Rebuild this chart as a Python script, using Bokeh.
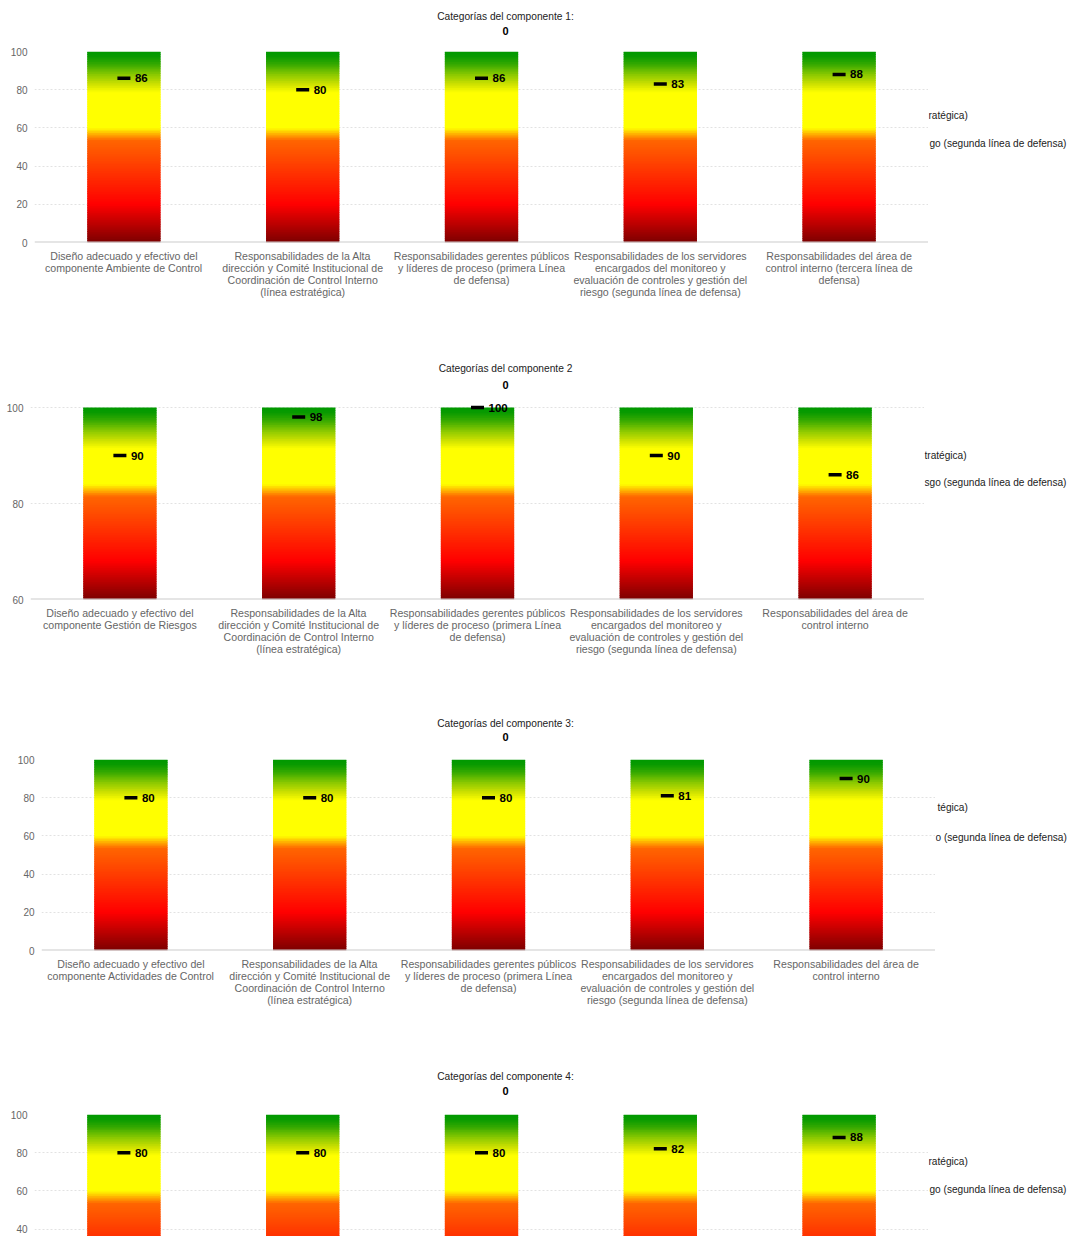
from bokeh.plotting import figure
from bokeh.layouts import column, row
from bokeh.models import ColumnDataSource, Range1d, FactorRange, FixedTicker, Label, LabelSet, Span
from bokeh.core.properties import value
from bokeh.embed import file_html
from bokeh.resources import INLINE

FONT = "Liberation Sans"

# ---------------- data ----------------
CAT_ALTA = ("Responsabilidades de la Alta dirección y Comité Institucional de "
            "Coordinación de Control Interno (línea estratégica)")
CAT_PRIMERA = "Responsabilidades gerentes públicos y líderes de proceso (primera Línea de defensa)"
CAT_SEGUNDA = ("Responsabilidades de los servidores encargados del monitoreo y evaluación "
               "de controles y gestión del riesgo (segunda línea de defensa)")

categories_1 = ["Diseño adecuado y efectivo del componente Ambiente de Control", CAT_ALTA, CAT_PRIMERA,
                CAT_SEGUNDA, "Responsabilidades del área de control interno (tercera línea de defensa)"]
categories_2 = ["Diseño adecuado y efectivo del componente Gestión de Riesgos", CAT_ALTA, CAT_PRIMERA,
                CAT_SEGUNDA, "Responsabilidades del área de control interno"]
categories_3 = ["Diseño adecuado y efectivo del componente Actividades de Control", CAT_ALTA, CAT_PRIMERA,
                CAT_SEGUNDA, "Responsabilidades del área de control interno"]
categories_4 = ["Diseño adecuado y efectivo del componente Información y Comunicación", CAT_ALTA, CAT_PRIMERA,
                CAT_SEGUNDA, "Responsabilidades del área de control interno"]

TL_ALTA = "Responsabilidades de la Alta\ndirección y Comité Institucional de\nCoordinación de Control Interno\n(línea estratégica)"
TL_PRIMERA = "Responsabilidades gerentes públicos\ny líderes de proceso (primera Línea\nde defensa)"
TL_SEGUNDA = "Responsabilidades de los servidores\nencargados del monitoreo y\nevaluación de controles y gestión del\nriesgo (segunda línea de defensa)"

tick_labels_1 = ["Diseño adecuado y efectivo del\ncomponente Ambiente de Control", TL_ALTA, TL_PRIMERA, TL_SEGUNDA,
                 "Responsabilidades del área de\ncontrol interno (tercera línea de\ndefensa)"]
tick_labels_2 = ["Diseño adecuado y efectivo del\ncomponente Gestión de Riesgos", TL_ALTA, TL_PRIMERA, TL_SEGUNDA,
                 "Responsabilidades del área de\ncontrol interno"]
tick_labels_3 = ["Diseño adecuado y efectivo del\ncomponente Actividades de Control", TL_ALTA, TL_PRIMERA, TL_SEGUNDA,
                 "Responsabilidades del área de\ncontrol interno"]

bars_1 = [100, 100, 100, 100, 100]
bars_2 = [100, 100, 100, 100, 100]
bars_3 = [100, 100, 100, 100, 100]
bars_4 = [100, 100, 100, 100, 100]

scores_1 = [86, 80, 86, 83, 88]
scores_2 = [90, 98, 100, 90, 86]
scores_3 = [80, 80, 80, 81, 90]
scores_4 = [80, 80, 80, 82, 88]

y_ticks_1 = [0, 20, 40, 60, 80, 100]
y_ticks_2 = [60, 80, 100]
y_ticks_3 = [0, 20, 40, 60, 80, 100]
y_ticks_4 = [0, 20, 40, 60, 80, 100]

titles = ["Categorías del componente 1:", "Categorías del componente 2",
          "Categorías del componente 3:", "Categorías del componente 4:"]
subtitles = ["0", "0", "0", "0"]

legend_cut_1 = ["ratégica)", "go (segunda línea de defensa)"]
legend_cut_2 = ["tratégica)", "sgo (segunda línea de defensa)"]
legend_cut_3 = ["tégica)", "o (segunda línea de defensa)"]
legend_cut_4 = ["ratégica)", "go (segunda línea de defensa)"]

# ---------------- style ----------------
STOPS = [(0.0, "#7c0000"), (0.2, "#ff0000"), (0.535, "#ff6600"), (0.6, "#ffff00"),
         (0.785, "#ffff00"), (0.83, "#cce000"), (0.88, "#88c800"), (0.935, "#33a800"),
         (0.975, "#089a00"), (1.0, "#009900")]
N_SLICES = 110
PAGE_W = 1070
FRAME_W = 894


def hex2rgb(h):
    return [int(h[i:i + 2], 16) for i in (1, 3, 5)]


def grad_color(t):
    for (t0, c0), (t1, c1) in zip(STOPS[:-1], STOPS[1:]):
        if t <= t1:
            f = 0.0 if t1 == t0 else (t - t0) / (t1 - t0)
            a, b = hex2rgb(c0), hex2rgb(c1)
            return "#%02x%02x%02x" % tuple(round(a[i] + (b[i] - a[i]) * f) for i in range(3))
    return STOPS[-1][1]


def blank_fig(w, h):
    f = figure(width=w, height=h, x_range=Range1d(0, w), y_range=Range1d(0, h),
               x_axis_location=None, y_axis_location=None, toolbar_location=None,
               output_backend="svg", min_border=0)
    f.grid.visible = False
    f.outline_line_color = None
    f.background_fill_color = "white"
    f.border_fill_color = "white"
    return f


def put(f, h, text, cx, cy, size, bold=False, align="center", color="#222222"):
    f.add_layout(Label(x=cx, y=h - cy, text=text, text_align=align, text_baseline="middle",
                       text_font=FONT, text_font_size=size,
                       text_font_style="bold" if bold else "normal", text_color=color))


def make_panel(cats, ticklabels, bars, scores, base, y_start, y_end, ticks, title, subtitle,
               legend_cut, lay):
    left, ht, tb, fh, bb, lh, total = (lay[k] for k in ("left", "ht", "tb", "fh", "bb", "lh", "total"))
    cw = left + FRAME_W
    sw = PAGE_W - cw

    head = blank_fig(PAGE_W, ht)
    put(head, ht, title, 505, lay["t1"], "10.2px", color="#222222")
    put(head, ht, subtitle, 505, lay["t2"], "11px", bold=True, color="#000000")

    xr = FactorRange(factors=cats)
    p = figure(x_range=xr, y_range=Range1d(y_start, y_end), width=cw, height=tb + fh + bb,
               x_axis_location=None, output_backend="svg", toolbar_location=None,
               min_border_left=left, min_border_right=0, min_border_top=tb, min_border_bottom=bb)
    p.outline_line_color = None
    p.background_fill_color = "white"
    p.border_fill_color = "white"
    p.xgrid.grid_line_color = None
    p.ygrid.ticker = FixedTicker(ticks=ticks)
    p.ygrid.grid_line_color = "#e2e2e2"
    p.ygrid.grid_line_dash = "2 2"
    p.ygrid.grid_line_width = 1

    # gradient bars as stacked slices
    xs, bs, ts, cs = [], [], [], []
    for c, b in zip(cats, bars):
        span = b - base
        for k in range(N_SLICES):
            xs.append(c)
            bs.append(base + span * k / N_SLICES)
            ts.append(min(b, base + span * (k + 1.6) / N_SLICES))
            cs.append(grad_color((k + 0.5) / N_SLICES))
    src = ColumnDataSource(dict(x=xs, bottom=bs, top=ts, color=cs))
    p.vbar(x="x", bottom="bottom", top="top", width=0.41, fill_color="color", line_color=None, source=src)

    if bb > 0:
        p.add_layout(Span(location=base, dimension="width", line_color="#cccccc", line_width=2))

    msrc = ColumnDataSource(dict(x=cats, y=scores, text=[str(s) for s in scores]))
    p.scatter(x="x", y="y", marker="dash", size=13, line_width=3.5, line_color="black", source=msrc)
    p.add_layout(LabelSet(x="x", y="y", text="text", source=msrc, x_offset=11,
                          text_align="left", text_baseline="middle",
                          text_font=value(FONT), text_font_size="11.5px",
                          text_font_style="bold", text_color="black"))

    p.yaxis.ticker = FixedTicker(ticks=ticks)
    p.yaxis.axis_line_color = None
    p.yaxis.major_tick_line_color = None
    p.yaxis.minor_tick_line_color = None
    p.yaxis.major_tick_out = 0
    p.yaxis.major_tick_in = 0
    p.yaxis.minor_tick_out = 0
    p.yaxis.major_label_text_color = "#666666"
    p.yaxis.major_label_text_font = FONT
    p.yaxis.major_label_text_font_size = "10px"
    p.yaxis.major_label_standoff = 7

    left_col = [p]
    if lh > 0:
        lf = figure(x_range=xr, y_range=Range1d(0, lh), width=cw, height=lh,
                    x_axis_location=None, y_axis_location=None, toolbar_location=None,
                    output_backend="svg", min_border_left=left, min_border_right=0,
                    min_border_top=0, min_border_bottom=0)
        lf.grid.visible = False
        lf.outline_line_color = None
        lf.background_fill_color = "white"
        lf.border_fill_color = "white"
        lx, ly, lt = [], [], []
        for c, tl in zip(cats, ticklabels):
            for j, line in enumerate(tl.split("\n")):
                lx.append(c)
                ly.append(lh - (7 + 12 * j))
                lt.append(line)
        lf.text(x="x", y="y", text="text", source=ColumnDataSource(dict(x=lx, y=ly, text=lt)),
                text_font=value(FONT), text_font_size="10.6px", text_align="center",
                text_baseline="middle", text_color="#666666")
        left_col.append(lf)

    sh = total - ht
    side = blank_fig(sw, sh)
    put(side, sh, legend_cut[0], lay["lx0"], lay["ly0"], "10.1px", align="left")
    put(side, sh, legend_cut[1], lay["lx1"], lay["ly1"], "10.1px", align="left")

    body = row(column(*left_col, spacing=0), side, spacing=0)
    return column(head, body, spacing=0)


L1 = dict(left=34, ht=41, tb=10, fh=191, bb=6, lh=105, total=353, t1=15.7, t2=30,
          lx0=0, ly0=74, lx1=1, ly1=102)
L2 = dict(left=30, ht=44, tb=4, fh=198, bb=6, lh=101, total=353, t1=15.3, t2=31,
          lx0=0, ly0=58, lx1=0, ly1=85)
L3 = dict(left=41, ht=43, tb=10, fh=191, bb=6, lh=103, total=353, t1=17.3, t2=30.7,
          lx0=2, ly0=58.3, lx1=0, ly1=87.7)
L4 = dict(left=34, ht=45, tb=10, fh=122, bb=0, lh=0, total=177, t1=16.7, t2=31,
          lx0=0, ly0=57, lx1=1, ly1=85)

panel1 = make_panel(categories_1, tick_labels_1, bars_1, scores_1, 0, 0, 100, y_ticks_1,
                    titles[0], subtitles[0], legend_cut_1, L1)
panel2 = make_panel(categories_2, tick_labels_2, bars_2, scores_2, 60, 60, 101.25, y_ticks_2,
                    titles[1], subtitles[1], legend_cut_2, L2)
panel3 = make_panel(categories_3, tick_labels_3, bars_3, scores_3, 0, 0, 100, y_ticks_3,
                    titles[2], subtitles[2], legend_cut_3, L3)
panel4 = make_panel(categories_4, [], bars_4, scores_4, 0, 36.1, 100, y_ticks_4,
                    titles[3], subtitles[3], legend_cut_4, L4)

layout = column(panel1, panel2, panel3, panel4, spacing=0)
open("out.html", "w").write(file_html(layout, INLINE))
